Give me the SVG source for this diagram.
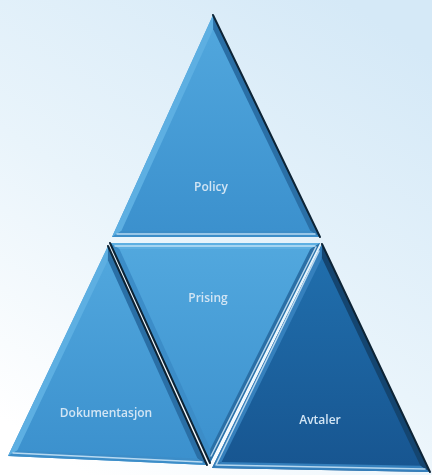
<svg xmlns="http://www.w3.org/2000/svg" width="432" height="475" viewBox="0 0 432 475">
  <defs>
    <linearGradient id="bg" x1="0.8" y1="0" x2="0.2" y2="1">
      <stop offset="0" stop-color="#d5e9f7"/>
      <stop offset="0.55" stop-color="#e9f4fb"/>
      <stop offset="1" stop-color="#ffffff"/>
    </linearGradient>
    <linearGradient id="faceLight" x1="0" y1="0" x2="0" y2="1">
      <stop offset="0" stop-color="#52a8de"/>
      <stop offset="1" stop-color="#3b90cd"/>
    </linearGradient>
    <linearGradient id="faceDark" x1="0" y1="0" x2="0" y2="1">
      <stop offset="0" stop-color="#2170ae"/>
      <stop offset="1" stop-color="#175590"/>
    </linearGradient>
    <filter id="soft" x="-10%" y="-30%" width="120%" height="160%">
      <feGaussianBlur stdDeviation="0.35"/>
    </filter>
  </defs>
  <style>
    .face-l { fill: url(#faceLight); }
    .face-d { fill: url(#faceDark); }
    .bev-hi { fill: #5dafe2; }
    .bev-md { fill: #3c8dc8; }
    .bev-lo { fill: #2a6fa6; }
    .bev-hi-d { fill: #3580bd; }
    .bev-lo-d { fill: #144570; }
    .shine { stroke: #d6ecfb; stroke-width: 1.5; stroke-linecap: round; fill: none; opacity: 0.8; }
    .edge { stroke: #0d2436; stroke-width: 2; stroke-linecap: round; fill: none; }
    .label { font-family: "Open Sans", "Liberation Sans", sans-serif; font-size: 12px; font-weight: 600; fill: #d2e5f4; text-anchor: middle; filter: url(#soft); }
  </style>

  <rect width="432" height="475" fill="url(#bg)"/>

  <!-- Top: Policy -->
  <g id="policy">
    <polygon class="face-l" points="213,15 112,237 320,237"/>
    <polygon class="bev-hi" points="213,15 112,237 121.3,231 213.2,29.2"/>
    <polygon class="bev-lo" points="213,15 320,237 310.4,231 213.2,29.2"/>
    <polygon class="bev-md" points="112,237 320,237 310.4,231 121.3,231"/>
    <line class="shine" x1="117" y1="234" x2="315" y2="234"/>
    <line class="edge" x1="213" y1="15" x2="320" y2="237"/>
    <text class="label" x="211" y="191">Policy</text>
  </g>

  <!-- Bottom left: Dokumentasjon -->
  <g id="dokumentasjon">
    <polygon class="face-l" points="108,246 8,456 207,465"/>
    <polygon class="bev-hi" points="108,246 8,456 17.3,450.4 107.9,260.3"/>
    <polygon class="bev-lo" points="108,246 207,465 197.5,458.6 107.9,260.3"/>
    <polygon class="bev-md" points="8,456 207,465 197.5,458.6 17.3,450.4"/>
    <line class="shine" x1="13" y1="453" x2="202" y2="462"/>
    <line class="edge" x1="108" y1="246" x2="207" y2="465"/>
    <text class="label" x="106" y="417" font-size="12.5">Dokumentasjon</text>
  </g>

  <!-- Centre, inverted: Prising -->
  <g id="prising">
    <polygon class="face-l" points="110,243 320,243 210,463"/>
    <polygon class="bev-hi" points="110,243 320,243 310.3,249 119.4,249"/>
    <polygon class="bev-md" points="110,243 210,463 210.3,449 119.4,249"/>
    <polygon class="bev-lo" points="320,243 210,463 210.3,449 310.3,249"/>
    <line class="shine" x1="115" y1="246" x2="315" y2="246"/>
    <line class="shine" x1="316" y1="247" x2="211" y2="456"/>
    <line class="edge" x1="110" y1="243" x2="210" y2="463"/>
    <text class="label" x="208" y="302">Prising</text>
  </g>

  <!-- Bottom right: Avtaler -->
  <g id="avtaler">
    <polygon class="face-d" points="322,244 212,468 430,472"/>
    <polygon class="bev-hi-d" points="322,244 212,468 221.6,462.1 321.9,257.9"/>
    <polygon class="bev-lo-d" points="322,244 430,472 420.4,465.8 321.9,257.9"/>
    <polygon class="bev-hi-d" points="212,468 430,472 420.4,465.8 221.6,462.1"/>
    <line class="shine" x1="217" y1="465" x2="425" y2="469"/>
    <line class="shine" x1="319" y1="251" x2="216" y2="465"/>
    <line class="edge" x1="322" y1="244" x2="430" y2="472"/>
    <text class="label" x="320" y="424" font-size="12.5">Avtaler</text>
  </g>
</svg>
